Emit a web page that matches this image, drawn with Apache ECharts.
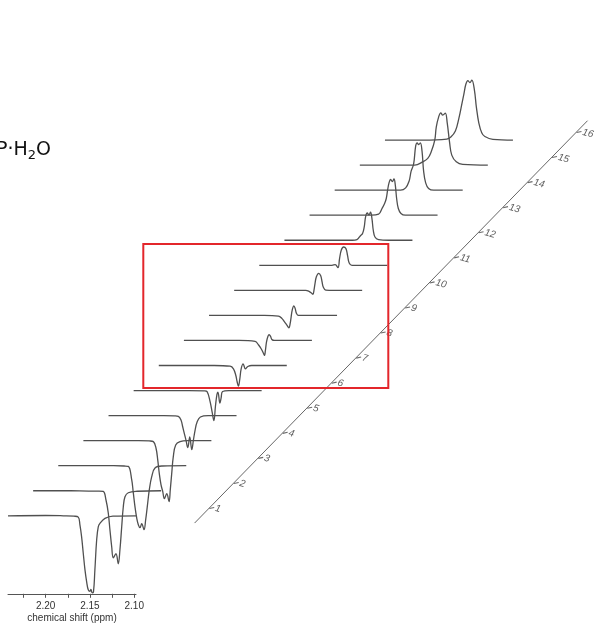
<!DOCTYPE html>
<html><head><meta charset="utf-8">
<script src="https://cdn.jsdelivr.net/npm/echarts@6/dist/echarts.min.js"></script>
<style>html,body{margin:0;padding:0;background:#fff}#c{width:601px;height:627px}</style>
</head><body><div id="c"></div>
<script>
// ---- data: [chemical shift (ppm), intensity (a.u.)] ----
const trace1 = [[2.2425,0],[2.20,0.3],[2.18,0],[2.1681,-0.4],[2.1632,-1.3],[2.1613,-9],[2.1594,-21],[2.1576,-37],[2.1556,-54],[2.1537,-66],[2.1519,-74],[2.1500,-75.5],[2.1489,-73.5],[2.1475,-77],[2.1460,-76],[2.1444,-54],[2.1424,-24],[2.1406,-11],[2.1387,-7.6],[2.1330,-2.6],[2.1240,-0.3],[2.098,0]];
const trace2 = [[2.2425,0],[2.20,0],[2.18,-0.3],[2.1681,-0.3],[2.1633,-0.7],[2.1603,-9],[2.1577,-22],[2.1558,-39],[2.1538,-56],[2.1520,-67],[2.1490,-63],[2.1464,-73],[2.1445,-59],[2.1425,-36],[2.1407,-16],[2.1388,-6],[2.1351,-2],[2.125,-0.5],[2.098,0]];
const trace3 = [[2.2425,0],[2.20,0],[2.18,0],[2.1681,-0.3],[2.1634,-0.7],[2.1596,-14],[2.1578,-27],[2.1559,-41],[2.1540,-52],[2.1521,-59],[2.1502,-62],[2.1483,-58],[2.1457,-64],[2.1438,-54],[2.1420,-41],[2.1397,-24],[2.1370,-11],[2.1333,-2.3],[2.125,-0.3],[2.098,0]];
const trace4 = [[2.2425,0],[2.20,0],[2.18,0],[2.1681,-0.3],[2.1635,-1],[2.1605,-7.6],[2.1586,-19],[2.1568,-33],[2.1549,-44],[2.1529,-51],[2.1511,-58],[2.1484,-53],[2.1458,-61],[2.1444,-49],[2.1428,-33],[2.1410,-16],[2.1383,-4.3],[2.1334,-1],[2.125,0],[2.098,0]];
const trace5 = [[2.2425,0],[2.20,0],[2.18,0],[2.1681,-0.2],[2.1637,-0.7],[2.1606,-4.7],[2.1587,-11.4],[2.1569,-18],[2.1550,-24.7],[2.1530,-32],[2.1508,-21.4],[2.1485,-34],[2.1467,-24.7],[2.1448,-14.7],[2.1425,-6.4],[2.1388,-1.4],[2.130,0],[2.098,0]];
const trace6 = [[2.2425,0],[2.20,0],[2.18,0],[2.1624,-0.3],[2.1596,-1],[2.1562,-11],[2.1540,-21],[2.1519,-30],[2.1502,-16],[2.1485,-4],[2.1474,-1.5],[2.1451,-12.6],[2.1438,-7.6],[2.1421,-1],[2.135,0],[2.098,0]];
const trace7 = [[2.2425,0],[2.20,0],[2.18,0],[2.1620,-0.7],[2.1582,-3.3],[2.1555,-10],[2.1541,-16],[2.1526,-20.7],[2.1510,-13.3],[2.1495,-3.3],[2.1473,1.7],[2.1447,-3.3],[2.1420,-1],[2.1376,0],[2.098,0]];
const trace8 = [[2.2425,0],[2.20,0],[2.18,0],[2.1621,-1],[2.1584,-4.3],[2.1553,-8.3],[2.1530,-12.3],[2.1516,-15],[2.1505,-10],[2.1493,-1.7],[2.1477,4],[2.1463,5.7],[2.1448,4.3],[2.1432,1],[2.1403,0],[2.098,0]];
const trace9 = [[2.2425,0],[2.20,0],[2.18,0],[2.1641,-0.7],[2.1603,-3],[2.1573,-6.4],[2.1546,-9.7],[2.1524,-12.4],[2.1509,-8],[2.1498,-1.4],[2.1486,5.3],[2.1467,9.6],[2.1453,7],[2.1438,2],[2.1415,0],[2.098,0]];
const trace10 = [[2.2425,0],[2.20,0],[2.18,0],[2.1617,0],[2.1580,-1],[2.1553,-2.7],[2.1535,-4],[2.1524,0.3],[2.1512,7],[2.1497,13.6],[2.1471,17],[2.1448,14.6],[2.1433,8.6],[2.1418,3],[2.1392,0.3],[2.130,0],[2.098,0]];
const trace11 = [[2.2425,0],[2.20,0],[2.18,0],[2.1605,0],[2.1568,0.7],[2.1537,-2.3],[2.1519,6.7],[2.1500,15],[2.1474,18.3],[2.1447,16.7],[2.1429,10],[2.1410,2.3],[2.1379,0],[2.098,0]];
const trace12 = [[2.2425,0],[2.20,0],[2.18,0],[2.1658,0],[2.1606,0.7],[2.1569,4.3],[2.1543,6.7],[2.1524,13.3],[2.1509,23.3],[2.1490,27.3],[2.1471,25.3],[2.1453,28],[2.1437,21.7],[2.1422,10],[2.1403,3.3],[2.1362,0.7],[2.125,0],[2.098,0]];
const trace13 = [[2.2425,0],[2.20,0],[2.1726,0],[2.1646,1],[2.1607,6.7],[2.1578,11.7],[2.1559,16.7],[2.1544,25],[2.1528,32.3],[2.1510,35.7],[2.1491,33.7],[2.1472,36.3],[2.1457,30],[2.1442,16.7],[2.1423,6.7],[2.1393,1.7],[2.1344,0],[2.098,0]];
const trace14 = [[2.2425,0],[2.20,0],[2.1681,0],[2.1624,2.3],[2.1585,9],[2.1562,19],[2.1534,26],[2.1511,44],[2.1494,47.3],[2.1477,45.5],[2.1458,47.3],[2.1439,39],[2.1421,19],[2.1398,7.3],[2.1365,1.7],[2.1308,0],[2.098,0]];
const trace15 = [[2.2425,0],[2.20,0],[2.1805,0],[2.1715,3.3],[2.1658,6.7],[2.1619,13.3],[2.1579,25],[2.1562,38],[2.1534,48.5],[2.1511,52.3],[2.1489,50],[2.1460,52],[2.1438,42],[2.1412,23],[2.1387,10],[2.1336,3.3],[2.1263,0.7],[2.098,0]];
const trace16 = [[2.2425,0],[2.20,0],[2.1726,1],[2.1681,3],[2.1630,9],[2.1590,22],[2.1556,36.5],[2.1534,46],[2.1511,56],[2.1489,59.5],[2.1466,57.5],[2.1444,60],[2.1415,50],[2.1393,33],[2.1365,17],[2.1331,7],[2.1297,3.5],[2.1206,0.7],[2.098,0]];
const traces = [trace1,trace2,trace3,trace4,trace5,trace6,trace7,trace8,trace9,trace10,trace11,trace12,trace13,trace14,trace15,trace16];

const ppmRange = [2.098, 2.2425];
const ppmTicks = [2.225, 2.2, 2.175, 2.15, 2.125, 2.1];
const ppmLabels = [2.2, 2.15, 2.1];
const xAxisName = 'chemical shift (ppm)';
const diagLabels = ['1','2','3','4','5','6','7','8','9','10','11','12','13','14','15','16'];
const diagRange = [0.4, 16.45];
const titleParts = ['P\u00B7H', '2', 'O'];

// ---- layout ----
const L = {x0: 8, y0: 515.8, dx: 25.13, dy: 25.05, w: 128, up: 90, down: 78};
const D = {left: 184.8, top: 106.9, width: 428.4, height: 426.2, max: 17};
const box = {x: 143.3, y: 244, w: 245, h: 144};

const grids = [], xAxes = [], yAxes = [], series = [];
traces.forEach((t, i) => {
  grids.push({left: L.x0 + L.dx * i, top: L.y0 - L.dy * i - L.up, width: L.w, height: L.up + L.down});
  const first = i === 0;
  xAxes.push({
    gridIndex: i, type: 'value', inverse: true, min: ppmRange[0], max: ppmRange[1], show: first,
    splitLine: {show: false},
    axisLine: {show: first, onZero: false, lineStyle: {color: '#555', width: 1}},
    axisTick: {show: first, customValues: ppmTicks, length: 4, lineStyle: {color: '#555'}},
    axisLabel: {show: first, customValues: ppmLabels, formatter: v => (+v).toFixed(2), fontSize: 10,
      fontFamily: 'Liberation Sans', color: '#333', margin: 7},
    name: first ? xAxisName : '', nameLocation: 'middle', nameGap: 19,
    nameTextStyle: {fontSize: 10, fontFamily: 'Liberation Sans', color: '#333'}
  });
  yAxes.push({gridIndex: i, type: 'value', min: -L.down, max: L.up, show: false});
  series.push({
    type: 'line', xAxisIndex: i, yAxisIndex: i, data: t, symbol: 'none', smooth: 0.4,
    silent: true, lineStyle: {color: '#505050', width: 1.3}, z: 2
  });
});
// diagonal sample axis
const di = traces.length;
grids.push({left: D.left, top: D.top, width: D.width, height: D.height});
xAxes.push({gridIndex: di, type: 'value', min: 0, max: D.max, show: false});
yAxes.push({gridIndex: di, type: 'value', min: 0, max: D.max, show: false});
series.push({type: 'line', xAxisIndex: di, yAxisIndex: di, data: diagRange.map(v => [v, v]),
  symbol: 'none', silent: true, clip: false, lineStyle: {color: '#666', width: 1}});
series.push({type: 'scatter', xAxisIndex: di, yAxisIndex: di,
  data: diagLabels.map((l, i) => ({value: [i + 1, i + 1], name: l})),
  symbol: 'rect', symbolSize: [5, 1.1], symbolOffset: [2.5, 0], symbolRotate: 12, silent: true,
  itemStyle: {color: '#444'},
  label: {show: true, position: 'right', distance: 1, formatter: p => p.name, fontSize: 10,
    fontStyle: 'italic', fontFamily: 'Liberation Sans', color: '#333', rotate: -15}});

const chart = echarts.init(document.getElementById('c'), null, {renderer: 'canvas'});
chart.setOption({
  animation: false,
  backgroundColor: '#fff',
  grid: grids, xAxis: xAxes, yAxis: yAxes, series: series,
  graphic: [
    {type: 'text', left: -4, top: 138, style: {
      text: '{m|' + titleParts[0] + '}{s|' + titleParts[1] + '}{m|' + titleParts[2] + '}',
      rich: {
        m: {fontSize: 19, fontFamily: 'DejaVu Sans', lineHeight: 24, fill: '#111'},
        s: {fontSize: 13, fontFamily: 'DejaVu Sans', lineHeight: 24, padding: [11, 0, 0, 0], fill: '#111'}
      }}},
    {type: 'rect', shape: {x: box.x, y: box.y, width: box.w, height: box.h}, silent: true,
      style: {fill: 'none', stroke: '#e3262b', lineWidth: 2}, z: 10}
  ]
});
</script></body></html>
